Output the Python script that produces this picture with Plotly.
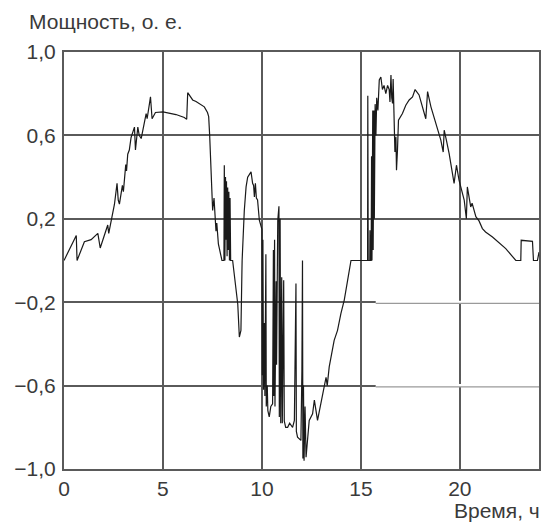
import plotly.graph_objects as go

# time, hours
t = [
    0.00, 0.62, 0.66, 1.03, 1.37, 1.71, 1.83, 2.21, 2.26, 2.46, 2.55, 2.68, 2.74, 2.80,
    2.95, 3.00, 3.12, 3.16, 3.22, 3.30, 3.39, 3.56, 3.61, 3.73, 3.80, 3.90, 4.06, 4.15,
    4.20, 4.37, 4.45, 4.62,
    5.00, 5.66, 6.08, 6.20, 6.25, 6.50, 6.67, 6.90, 7.09, 7.25, 7.31, 7.36, 7.43, 7.51,
    7.58, 7.63, 7.68, 7.72, 7.80, 7.98,
    8.08, 8.10, 8.13, 8.16, 8.19, 8.21, 8.24, 8.27, 8.30, 8.33, 8.36, 8.39, 8.42, 8.52,
    8.61, 8.70, 8.78, 8.86, 8.94, 8.99, 9.00, 9.11, 9.20, 9.28, 9.36, 9.45, 9.53, 9.58,
    9.62, 9.67, 9.72, 9.78, 9.87, 9.95,
    10.00, 10.02, 10.05, 10.08, 10.12, 10.15, 10.20, 10.22, 10.27, 10.30, 10.37, 10.45,
    10.54, 10.58, 10.60, 10.64, 10.66, 10.72, 10.74, 10.80, 10.86, 10.88, 10.92, 10.95,
    11.00, 11.03, 11.10, 11.13, 11.20, 11.30, 11.40, 11.55, 11.64, 11.72, 11.74, 11.80,
    11.97, 12.02, 12.05, 12.07, 12.10, 12.13, 12.18, 12.23, 12.31, 12.39, 12.56, 12.65,
    12.81, 12.98, 13.24, 13.30, 13.40, 13.65, 13.82, 13.99, 14.16, 14.33, 14.50,
    15.34, 15.35, 15.37, 15.45, 15.46, 15.48, 15.52, 15.54, 15.56, 15.60, 15.62, 15.66,
    15.68, 15.72, 15.76, 15.80, 15.86, 15.93, 16.01, 16.09, 16.17, 16.26, 16.35, 16.43,
    16.47, 16.52, 16.56, 16.60, 16.63, 16.67, 16.72, 16.77, 16.80, 16.85, 16.90,
    17.10, 17.27, 17.44, 17.61, 17.74, 17.94, 18.28, 18.37, 18.54, 18.79, 19.04, 19.16,
    19.21, 19.32, 19.46, 19.71, 19.83, 19.96, 20.22, 20.33, 20.38, 20.55, 20.62, 20.81,
    20.97, 21.14, 21.30, 21.65, 22.32, 22.83, 23.08, 23.10, 23.67, 23.72, 23.92, 24.00,
]

# power, p.u.
p = [
    0.00, 0.12, 0.00, 0.09, 0.10, 0.13, 0.06, 0.17, 0.13, 0.22, 0.27, 0.37, 0.29, 0.27,
    0.36, 0.33, 0.46, 0.43, 0.51, 0.53, 0.59, 0.64, 0.53, 0.64, 0.60, 0.585, 0.665, 0.705,
    0.68, 0.785, 0.68, 0.71,
    0.713, 0.70, 0.686, 0.677, 0.805, 0.77, 0.763, 0.75, 0.737, 0.71, 0.69, 0.60, 0.385, 0.24,
    0.30, 0.20, 0.14, 0.18, 0.08, 0.00,
    0.00, 0.457, 0.00, 0.40, 0.10, 0.38, 0.02, 0.35, 0.05, 0.33, 0.00, 0.30, 0.00, 0.00,
    -0.08, -0.15, -0.21, -0.367, -0.335, -0.05, 0.00, 0.24, 0.353, 0.40, 0.41, 0.425, 0.37, 0.36,
    0.305, 0.37, 0.30, 0.29, 0.193, 0.17,
    0.15, -0.55, 0.10, -0.62, -0.30, -0.65, 0.03, -0.70, -0.60, -0.72, -0.75, -0.70,
    -0.687, 0.05, -0.65, 0.10, -0.70, -0.10, -0.50, 0.19, 0.26, -0.75, 0.20, -0.78,
    -0.08, -0.78, -0.095, -0.77, -0.80, -0.80, -0.78, -0.80, -0.767, -0.11, -0.82, -0.847,
    -0.863, -0.53, 0.00, -0.95, -0.60, -0.96, -0.70, -0.943, -0.847, -0.767, -0.735, -0.67,
    -0.767, -0.687, -0.56, -0.60, -0.51, -0.383, -0.335, -0.255, -0.19, -0.095, 0.00,
    0.00, 0.79, 0.00, 0.00, 0.145, 0.00, 0.00, 0.50, 0.00, 0.72, 0.05, 0.72,
    0.20, 0.75, 0.60, 0.78, 0.72, 0.866, 0.88, 0.82, 0.84, 0.80, 0.84, 0.82,
    0.76, 0.89, 0.78, 0.754, 0.87, 0.70, 0.52, 0.593, 0.433, 0.53, 0.673,
    0.705, 0.745, 0.77, 0.785, 0.82, 0.794, 0.68, 0.81, 0.737, 0.658, 0.577, 0.52,
    0.625, 0.577, 0.513, 0.37, 0.457, 0.385, 0.29, 0.20, 0.353, 0.257, 0.275, 0.21,
    0.19, 0.153, 0.137, 0.113, 0.057, 0.00, 0.00, 0.097, 0.092, 0.00, 0.00, 0.04,
]

x_ticks = [0, 5, 10, 15, 20]
x_ticktext = ["0", "5", "10", "15", "20"]
y_ticks = [-1.0, -0.6, -0.2, 0.2, 0.6, 1.0]
y_ticktext = ["\u22121,0", "\u22120,6", "\u22120,2", "0,2", "0,6", "1,0"]
y_title = "Мощность, о. е."
x_title = "Время, ч"
# y gridlines that look faded on the right part of the original scan
faded_grid_y = [-0.2, -0.6]
faded_from_x = 15.75

FONT = "Liberation Sans, Arial, sans-serif"
GRID = "#5a5a5a"
TXT = "#3a3a3a"

fig = go.Figure()
fig.add_trace(go.Scatter(
    x=t, y=p, mode="lines",
    line=dict(color="#1a1a1a", width=1.2),
    hoverinfo="skip", showlegend=False,
))

axis_common = dict(
    showgrid=True, gridcolor=GRID, gridwidth=2,
    showline=True, linecolor=GRID, linewidth=2, mirror=True,
    zeroline=False, ticks="",
    tickfont=dict(family=FONT, size=21, color=TXT),
)

fig.update_xaxes(range=[0, 24], tickvals=x_ticks, ticktext=x_ticktext, **axis_common)
fig.update_yaxes(range=[-1.0, 1.0], tickvals=y_ticks, ticktext=y_ticktext,
                 ticklabelstandoff=2, **axis_common)

for gy in faded_grid_y:
    fig.add_shape(type="line", xref="x", yref="y", x0=faded_from_x, x1=24, y0=gy, y1=gy,
                  line=dict(color="white", width=3), layer="between")
    fig.add_shape(type="line", xref="x", yref="y", x0=faded_from_x, x1=24,
                  y0=gy - 0.006, y1=gy - 0.006,
                  line=dict(color="#9a9a9a", width=1.2), layer="between")

fig.add_annotation(text=y_title, xref="paper", yref="paper", x=-0.077, y=1.074,
                   xanchor="left", yanchor="middle", showarrow=False,
                   font=dict(family=FONT, size=21, color=TXT))
fig.add_annotation(text=x_title, xref="paper", yref="paper", x=1.007, y=-0.10,
                   xanchor="right", yanchor="middle", showarrow=False,
                   font=dict(family=FONT, size=21, color=TXT))

fig.update_layout(
    width=545, height=522,
    margin=dict(l=64, r=4, t=52, b=53),
    paper_bgcolor="white", plot_bgcolor="white",
    font=dict(family=FONT, color=TXT),
)

fig.write_html("out.html",
               config={"displayModeBar": False, "staticPlot": True},
               post_script="document.body.style.margin='0px';document.body.style.overflow='hidden';")
